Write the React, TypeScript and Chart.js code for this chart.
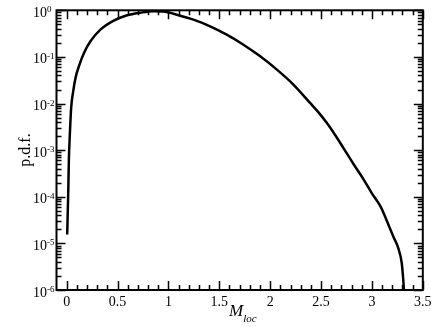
import React, { useEffect, useRef } from "react";
import { Chart, registerables } from "chart.js";

Chart.register(...registerables);

// Curve (x = M_loc, y = p.d.f.)
const mLoc = [
  0.005, 0.015, 0.022, 0.031, 0.044, 0.064, 0.087, 0.12, 0.17, 0.234, 0.332,
  0.463, 0.594, 0.725, 0.85, 0.95, 1.082, 1.246, 1.41, 1.573, 1.737, 1.902,
  2.066, 2.228, 2.392, 2.475, 2.556, 2.64, 2.719, 2.817, 2.916, 2.998, 3.088,
  3.145, 3.21, 3.259, 3.293, 3.308, 3.318,
];
const pdf = [
  1.55e-5, 1.12e-4, 6.8e-4, 2.14e-3, 8.1e-3, 1.82e-2, 3.55e-2, 6.3e-2, 0.122,
  0.217, 0.385, 0.598, 0.782, 0.889, 0.955, 0.944, 0.805, 0.631, 0.454, 0.3,
  0.183, 0.103, 0.0533, 0.0255, 0.0103, 0.00646, 0.00385, 0.00209, 0.00112,
  5.1e-4, 2.4e-4, 1.2e-4, 6.0e-5, 3.1e-5, 1.41e-5, 7.9e-6, 3.8e-6, 1.66e-6,
  8e-7,
];
const xTickLabels = ["0", "0.5", "1", "1.5", "2", "2.5", "3", "3.5"];
const yTickExponents = [0, -1, -2, -3, -4, -5, -6];
const yTitle = "p.d.f.";
const xTitleMain = "M";
const xTitleSub = "loc";

const SERIF = "'Liberation Serif', 'DejaVu Serif', serif";

const framePlugin = {
  id: "framePlugin",
  afterDraw(chart: any) {
    const ctx = chart.ctx as CanvasRenderingContext2D;
    const a = chart.chartArea;
    const xs = chart.scales.x;
    const ys = chart.scales.y;
    ctx.save();
    ctx.strokeStyle = "#000";
    ctx.fillStyle = "#000";
    // ticks
    ctx.lineWidth = 1.5;
    ctx.beginPath();
    for (let i = 0; i <= 35; i++) {
      const v = i / 10;
      const px = Math.round(xs.getPixelForValue(v)) + 0.5;
      const len = i % 5 === 0 ? 9 : 5;
      ctx.moveTo(px, a.bottom);
      ctx.lineTo(px, a.bottom - len);
      ctx.moveTo(px, a.top);
      ctx.lineTo(px, a.top + len);
    }
    for (let e = -6; e <= 0; e++) {
      for (let k = 1; k <= 9; k++) {
        if (e === 0 && k > 1) break;
        const v = k * Math.pow(10, e);
        const py = Math.round(ys.getPixelForValue(v)) + 0.5;
        const len = k === 1 ? 9 : 5;
        ctx.moveTo(a.left, py);
        ctx.lineTo(a.left + len, py);
        ctx.moveTo(a.right, py);
        ctx.lineTo(a.right - len, py);
      }
    }
    ctx.stroke();
    // frame
    ctx.lineWidth = 2;
    ctx.strokeRect(a.left, a.top, a.right - a.left, a.bottom - a.top);

    // x tick labels
    ctx.font = `14px ${SERIF}`;
    ctx.textAlign = "center";
    ctx.textBaseline = "alphabetic";
    xTickLabels.forEach((t) => {
      const px = xs.getPixelForValue(parseFloat(t));
      ctx.fillText(t, px, 306);
    });

    // y tick labels 10^e
    yTickExponents.forEach((e) => {
      const py = ys.getPixelForValue(Math.pow(10, e));
      ctx.font = `14px ${SERIF}`;
      ctx.textAlign = "right";
      ctx.fillText("10", 47, py + 6.5);
      ctx.font = `9px ${SERIF}`;
      ctx.textAlign = "left";
      ctx.fillText(e === 0 ? "0" : "-" + Math.abs(e), 47, py + 2);
    });

    // y title
    ctx.save();
    ctx.translate(26, 150);
    ctx.rotate(-Math.PI / 2);
    ctx.font = `16px ${SERIF}`;
    ctx.textAlign = "center";
    ctx.textBaseline = "middle";
    ctx.fillText(yTitle, 0, 0);
    ctx.restore();

    // x title
    ctx.textAlign = "left";
    ctx.textBaseline = "alphabetic";
    ctx.font = `italic 17px ${SERIF}`;
    ctx.fillText(xTitleMain, 229, 316);
    const w = ctx.measureText(xTitleMain).width;
    ctx.font = `italic 11px ${SERIF}`;
    ctx.fillText(xTitleSub, 229 + w, 322);
    ctx.restore();
  },
};

export default function App() {
  const ref = useRef<HTMLCanvasElement | null>(null);
  useEffect(() => {
    if (!ref.current) return;
    const chart = new Chart(ref.current, {
      type: "line",
      data: {
        datasets: [
          {
            data: mLoc.map((x, i) => ({ x, y: pdf[i] })),
            borderColor: "#000",
            borderWidth: 2.5,
            pointRadius: 0,
            cubicInterpolationMode: "monotone",
            fill: false,
          },
        ],
      },
      options: {
        responsive: false,
        animation: false,
        layout: { padding: { left: 56.5, top: 10.3, right: 13.2, bottom: 37 } },
        plugins: { legend: { display: false }, tooltip: { enabled: false } },
        scales: {
          x: { type: "linear", min: -0.1, max: 3.5, display: false },
          y: { type: "logarithmic", min: 1e-6, max: 1, display: false },
        },
      },
      plugins: [framePlugin],
    } as any);
    return () => chart.destroy();
  }, []);
  return (
    <div style={{ position: "absolute", left: 0, top: 0, width: 436, height: 327, background: "#fff" }}>
      <canvas ref={ref} width={436} height={327} />
    </div>
  );
}
